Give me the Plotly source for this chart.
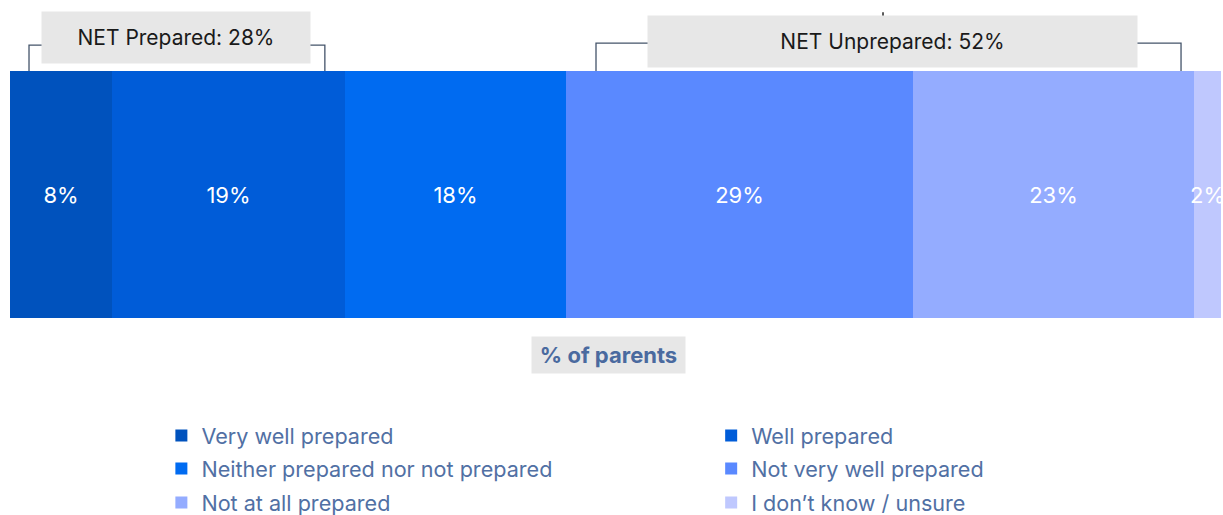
import plotly.graph_objects as go

categories = ["Very well prepared", "Well prepared", "Neither prepared nor not prepared",
              "Not very well prepared", "Not at all prepared", "I don\u2019t know / unsure"]
values = [8.45, 19.3, 18.3, 28.7, 23.35, 2.2]
colors = ["#0052BD", "#005CD8", "#006BF1", "#5A89FF", "#94ACFF", "#BFC8FE"]
net_labels = ["NET Prepared: 28%", "NET Unprepared: 52%"]
axis_label = "% of parents"

FONT = "Inter"
LEG_COLOR = "#5170A4"

legend_ids = ["legend", "legend2", "legend3", "legend4", "legend5", "legend6"]
# legend grid: two columns, three rows (row-major order)
col_x = [0.1250, 0.5790]
row_y = [-0.478, -0.611, -0.749]

fig = go.Figure()
for cat, val, col, lg in zip(categories, values, colors, legend_ids):
    fig.add_trace(go.Bar(
        y=[axis_label], x=[val], name=cat, orientation="h",
        marker=dict(color=col, line=dict(width=0)),
        texttemplate="%{x:.0f}%", textposition="inside", textangle=0,
        insidetextanchor="middle", constraintext="none",
        textfont=dict(color="white", size=22, family=FONT),
        legend=lg, hoverinfo="name+x",
    ))

legends = {}
for i, lg in enumerate(legend_ids):
    legends[lg] = dict(orientation="h", x=col_x[i % 2], y=row_y[i // 2],
                       xanchor="left", yanchor="middle",
                       font=dict(family=FONT, size=21.6, color=LEG_COLOR),
                       bgcolor="rgba(0,0,0,0)", itemclick=False)

fig.update_layout(
    width=1223, height=515,
    margin=dict(l=10, r=2, t=71, b=197, autoexpand=False),
    barmode="stack", bargap=0,
    plot_bgcolor="white", paper_bgcolor="white",
    xaxis=dict(range=[0, 100.3], visible=False, fixedrange=True),
    yaxis=dict(visible=False, fixedrange=True),
    showlegend=True,
    **legends,
)

line_col = "#44546A"
# brackets (paper coordinates, decorative)
fig.add_shape(type="path", xref="paper", yref="paper",
              path="M 0.0157,1 L 0.0157,1.105 L 0.260,1.105 L 0.260,1",
              line=dict(color=line_col, width=1.3))
fig.add_shape(type="path", xref="paper", yref="paper",
              path="M 0.4839,1 L 0.4839,1.113 L 0.967,1.113 L 0.967,1",
              line=dict(color=line_col, width=1.3))
fig.add_shape(type="line", xref="paper", yref="paper",
              x0=0.7209, x1=0.7209, y0=1.165, y1=1.238,
              line=dict(color="#000000", width=1.3))

fig.add_annotation(text=net_labels[0], xref="paper", yref="paper",
                   x=0.1371, y=1.1356, xanchor="center", yanchor="middle",
                   showarrow=False, bgcolor="#E7E7E7", borderpad=0,
                   width=268, height=51,
                   font=dict(family=FONT, size=21, color="#1A1A1A"))
fig.add_annotation(text=net_labels[1], xref="paper", yref="paper",
                   x=0.7287, y=1.119, xanchor="center", yanchor="middle",
                   showarrow=False, bgcolor="#E7E7E7", borderpad=0,
                   width=489, height=51,
                   font=dict(family=FONT, size=21, color="#1A1A1A"))
fig.add_annotation(text="<b>" + axis_label + "</b>", xref="paper", yref="paper",
                   x=0.4942, y=-0.1498, xanchor="center", yanchor="middle",
                   showarrow=False, bgcolor="#E7E7E7", borderpad=0,
                   width=153, height=36,
                   font=dict(family=FONT, size=22, color="#4A6A9F"))

fig.write_html("out.html",
               config={"displayModeBar": False},
               post_script="document.body.style.margin='0';"
                           "document.body.style.overflow='hidden';")
